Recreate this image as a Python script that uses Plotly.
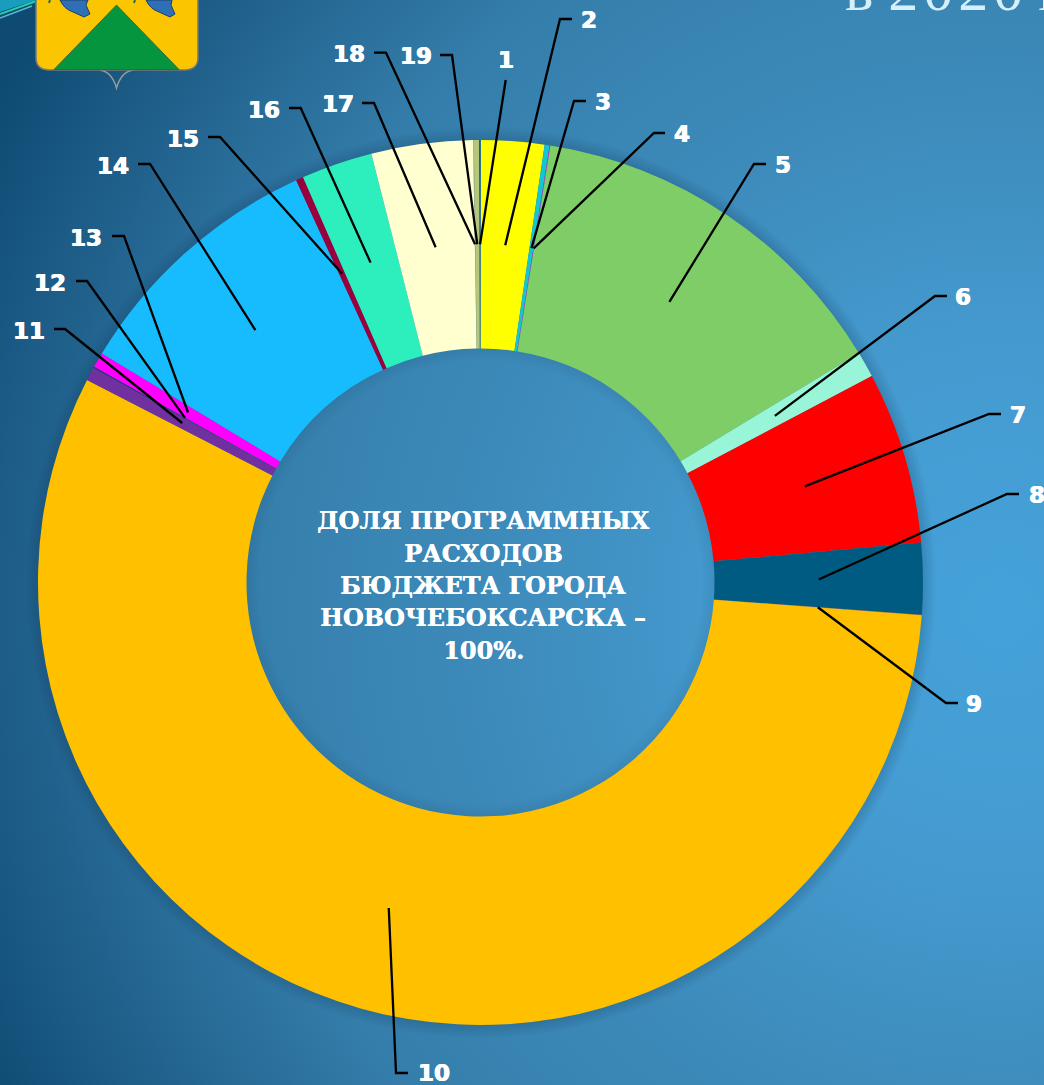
import math
import urllib.parse
import plotly.graph_objects as go

W, H = 1044, 1085

# Data (percent of programme spending)
slice_names = [str(i) for i in range(1, 20)]
slice_values = [0.07, 2.30, 0.18, 0.03, 13.80, 0.94, 6.28, 2.60, 0.02, 56.36,
                0.50, 0.04, 0.55, 9.50, 0.27, 2.60, 3.70, 0.02, 0.19]
slice_colors = ["#14609c", "#FFFF00", "#12C6D2", "#CC33CC", "#7FCD67", "#98F5D8",
                "#FF0000", "#005B82", "#C0501A", "#FFC000", "#7030A0", "#1F3864",
                "#FF00FF", "#17BCFF", "#99003D", "#2DEFBE", "#FFFFD0", "#D0D090",
                "#B5C77A"]

# Label layout
elbow_x = [505.7, 560, 574, 654, 754, 935, 989, 1007, 946, 396, 65, 87, 124, 150, 220, 300.7, 374, 386, 452]
elbow_y = [80, 19, 101, 133, 164, 296, 414, 494, 703, 1073, 329, 281, 236, 164, 137, 108, 103, 52.7, 55]
stub_x = [505.7, 572, 586, 665, 766, 947, 1001, 1019, 958, 408, 54, 76, 112, 138, 208, 289, 362, 374, 440]
label_x = [506, 589, 603, 682, 783, 963, 1018, 1037, 974, 434, 29, 50, 86, 113, 183, 264, 338, 349, 416]
label_y = [60, 20, 102, 134, 165, 297, 415, 495, 704, 1073, 331, 283, 238, 166, 139, 110, 104, 54, 56]

center_lines = ["ДОЛЯ ПРОГРАММНЫХ", "РАСХОДОВ", "БЮДЖЕТА ГОРОДА", "НОВОЧЕБОКСАРСКА –", "100%."]
center_y = [521, 553, 585, 617, 650]
title_text = "в 2\u200a0\u200a2\u200a0 г"

CX, CY = 480.5, 582.5
R_OUT, R_IN = 442.5, 234
ROTATION = -0.2


def px(x):
    return x / W


def py(y):
    return 1 - y / H


background = f"""<svg xmlns='http://www.w3.org/2000/svg' width='{W}' height='{H}' viewBox='0 0 {W} {H}'>
<defs>
<radialGradient id='bg' gradientUnits='userSpaceOnUse' cx='1000' cy='610' r='1130'>
<stop offset='0' stop-color='#44a2da'/><stop offset='0.22' stop-color='#459bd0'/>
<stop offset='0.45' stop-color='#3d8bbb'/><stop offset='0.67' stop-color='#357eab'/>
<stop offset='0.8' stop-color='#276a96'/><stop offset='1' stop-color='#0e4a72'/>
</radialGradient>
<radialGradient id='sh' gradientUnits='userSpaceOnUse' cx='{CX}' cy='{CY}' r='470'>
<stop offset='0.47' stop-color='#0a3050' stop-opacity='0'/>
<stop offset='0.497' stop-color='#0a3050' stop-opacity='0.1'/>
<stop offset='0.941' stop-color='#0a3050' stop-opacity='0.22'/>
<stop offset='0.97' stop-color='#0a3050' stop-opacity='0'/>
</radialGradient>
</defs>
<rect width='{W}' height='{H}' fill='url(#bg)'/>
<circle cx='{CX}' cy='{CY}' r='470' fill='url(#sh)'/>
<path d='M0 0H36V0L0 12Z' fill='#1a9dbd'/>
<path d='M0 14L35 1.500' stroke='#1fd0a8' stroke-width='2'/>
<path d='M0 18L32 6' stroke='#5fb6cf' stroke-width='1.5'/>
<path d='M100 70Q112 72 116.500 88Q121 72 133 70' fill='none' stroke='#9a9a9a' stroke-width='1.5'/>
<path d='M36 -2V58Q36 69 48 70H186Q198 69 198 58V-2Z' fill='#FBC600' stroke='#777' stroke-width='1.5'/>
<path d='M116.500 5L54 69.500H179Z' fill='#05953E' stroke='#3a5a30' stroke-width='0.8'/>
<path d='M60 0Q64 9 73 12L84 17L90 14L86 5L88 0Z' fill='#2F6FB5' stroke='#1d3f6e'/>
<path d='M146 0Q150 9 159 12L170 17L175 14L171 5L172 0Z' fill='#2F6FB5' stroke='#1d3f6e'/>
<path d='M50 0L49 3M135 0L134 3' stroke='#2b6b3a' stroke-width='2'/>
</svg>"""
background = " ".join(background.split("\n"))
bg_uri = "data:image/svg+xml;charset=utf-8," + urllib.parse.quote(background)

fig = go.Figure(
    go.Pie(
        labels=slice_names,
        values=slice_values,
        sort=False,
        direction="clockwise",
        rotation=ROTATION,
        hole=R_IN / R_OUT,
        textinfo="none",
        hoverinfo="label+percent",
        marker=dict(colors=slice_colors, line=dict(width=0)),
        showlegend=False,
        domain=dict(x=[px(CX - R_OUT), px(CX + R_OUT)], y=[py(CY + R_OUT), py(CY - R_OUT)]),
    )
)

total = sum(slice_values)
R_MID = (R_OUT + R_IN) / 2
shapes = []
annotations = []
cum = 0.0
THICK = "0.5px 0 0 white, -0.5px 0 0 white"
for i, v in enumerate(slice_values):
    a = math.radians(ROTATION + (cum + v / 2) / total * 360)
    cum += v
    sx = CX + R_MID * math.sin(a)
    sy = CY - R_MID * math.cos(a)
    path = (f"M {px(sx)} {py(sy)} L {px(elbow_x[i])} {py(elbow_y[i])} "
            f"L {px(stub_x[i])} {py(elbow_y[i])}")
    shapes.append(dict(type="path", xref="paper", yref="paper", path=path,
                       line=dict(color="black", width=2.3), layer="above"))
    annotations.append(dict(xref="paper", yref="paper", x=px(label_x[i]), y=py(label_y[i]),
                            text=slice_names[i], showarrow=False, xanchor="center", yanchor="middle",
                            font=dict(family="DejaVu Sans", size=23, color="white", weight="bold",
                                      shadow=THICK)))

for line, ly in zip(center_lines, center_y):
    annotations.append(dict(xref="paper", yref="paper", x=px(483), y=py(ly), text=line,
                            showarrow=False, xanchor="center", yanchor="middle", align="center",
                            font=dict(family="DejaVu Serif", size=24, color="white", weight="bold",
                                      shadow="0.4px 0 0 white")))
annotations.append(dict(xref="paper", yref="paper", x=px(843), y=py(-10), text=title_text, showarrow=False,
                        xanchor="left", yanchor="middle", align="left",
                        font=dict(family="Liberation Serif", size=60, color="#d5f0fa")))

fig.update_layout(
    width=W, height=H, margin=dict(l=0, r=0, t=0, b=0, pad=0), autosize=False,
    paper_bgcolor="#2b719e",
    images=[dict(source=bg_uri, xref="paper", yref="paper", x=0, y=1, sizex=1, sizey=1,
                 xanchor="left", yanchor="top", sizing="stretch", layer="below")],
    shapes=shapes, annotations=annotations,
)

fig.write_html("out.html", config={"displayModeBar": False},
               post_script="document.body.style.margin='0';document.body.style.overflow='hidden';")
